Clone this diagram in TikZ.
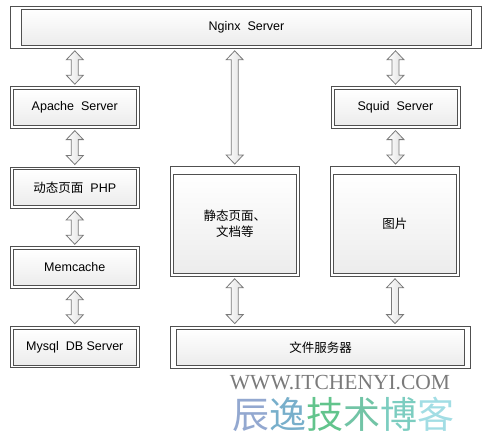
\documentclass[tikz,border=0pt]{standalone}
\usepackage{fontspec}
\setmainfont{Liberation Sans}
\newfontfamily\cjk{Noto Sans CJK SC}
\newfontfamily\cjkwide[LetterSpace=8]{Noto Sans CJK SC}
\newfontfamily\markfont{Liberation Serif}
\usepackage{tikz}
\usetikzlibrary{calc, positioning}
\definecolor{boxline}{HTML}{505050}
\definecolor{arrowline}{HTML}{7A7A7A}
\definecolor{markgray}{HTML}{7A7A7A}
\definecolor{markA}{HTML}{93A8D0}
\definecolor{markB}{HTML}{78AFCB}
\definecolor{markC}{HTML}{62C48C}
\definecolor{markD}{HTML}{72C4A6}
\definecolor{markE}{HTML}{7CCDC0}
\definecolor{markF}{HTML}{A2DDE4}

\begin{document}
\begin{tikzpicture}[x=1pt, y=-1pt,
		outerbox/.style={draw=boxline, line width=0.9pt, inner sep=0pt},
		innerbox/.style={draw=boxline, line width=0.9pt, top color=white, bottom color=gray!15,
			inner sep=0pt, align=center, font=\fontsize{12.5}{16}\selectfont},
		cjktext/.style={font=\cjk\fontsize{12.5}{16}\selectfont},
		smallframe/.style={minimum width=129pt, minimum height=41.5pt},
		smallbox/.style={minimum width=123pt, minimum height=36pt},
		dblarrow/.style={draw=arrowline, line width=0.8pt, left color=white, right color=gray!25,
			to path={let \p1=(\tikztostart), \p2=(\tikztotarget) in
				(\x1,\y1-2pt) -- (\x1+8.5pt,\y1-11pt) -- (\x1+3.5pt,\y1-11pt)
				-- (\x1+3.5pt,\y2+11pt) -- (\x1+8.5pt,\y2+11pt) -- (\x1,\y2+2pt)
				-- (\x1-8.5pt,\y2+11pt) -- (\x1-3.5pt,\y2+11pt)
				-- (\x1-3.5pt,\y1-11pt) -- (\x1-8.5pt,\y1-11pt) -- cycle}}
		]
	\useasboundingbox (0,0) rectangle (490,439);

	% --- Nginx (en haut) ---
	\node[outerbox, minimum width=471.5pt, minimum height=42.3pt] (nginx-o) at (246,27.2) {};
	\node[innerbox, minimum width=450.5pt, minimum height=36.3pt] (nginx) at (246.5,27.2) {Nginx\ \ Server};

	% --- colonne gauche ---
	\node[outerbox, smallframe] (apache-o) at (74.8,107.4) {};
	\node[innerbox, smallbox] (apache) at (74.8,107.5) {Apache\ \ Server};
	\node[outerbox, smallframe] (php-o) at (74.8,187.7) {};
	\node[innerbox, smallbox] (php) at (74.8,187.9) {{\cjk 动态页面}\ \ PHP};
	\node[outerbox, smallframe] (memc-o) at (74.8,267.5) {};
	\node[innerbox, smallbox] (memc) at (74.8,267.5) {Memcache};
	\node[outerbox, smallframe] (mysql-o) at (74.8,347) {};
	\node[innerbox, smallbox] (mysql) at (74.8,347.2) {Mysql\ \ DB Server};

	% --- colonnes du milieu et de droite ---
	\node[outerbox, minimum width=129.3pt, minimum height=109.8pt] (static-o) at (234.7,221.4) {};
	\node[innerbox, cjktext, minimum width=123pt, minimum height=99.5pt] (static) at (234.8,223.8) {静态页面、\\文档等};
	\node[outerbox, smallframe] (squid-o) at (395.5,107.4) {};
	\node[innerbox, smallbox] (squid) at (395.5,107.5) {Squid\ \ Server};
	\node[outerbox, minimum width=128.6pt, minimum height=109.8pt] (pic-o) at (395,221.4) {};
	\node[innerbox, cjktext, minimum width=123pt, minimum height=99.5pt] (pic) at (394.8,223.8) {图片};
	\node[outerbox, minimum width=300pt, minimum height=42.7pt] (files-o) at (320.7,347.4) {};
	\node[innerbox, cjktext, minimum width=287.6pt, minimum height=36.4pt] (files) at (320.5,347.5) {文件服务器};

	% --- fleches doubles ---
	\draw[dblarrow] (apache-o.north |- nginx-o.south) to (apache-o.north);
	\draw[dblarrow] (apache-o.south) to (php-o.north);
	\draw[dblarrow] (php-o.south) to (memc-o.north);
	\draw[dblarrow] (memc-o.south) to (mysql-o.north);
	\draw[dblarrow] (static-o.north |- nginx-o.south) to (static-o.north);
	\draw[dblarrow] (static-o.south) to (files-o.north);
	\draw[dblarrow] (squid-o.north |- nginx-o.south) to (squid-o.north);
	\draw[dblarrow] (squid-o.south) to (pic-o.north);
	\draw[dblarrow] (pic-o.south) to (files-o.north);

	% --- filigrane ---
	\node[font=\markfont\fontsize{21.5}{21.5}\selectfont, text=markgray, anchor=base] (site) at (340,389) {WWW.ITCHENYI.COM};
	\node[font=\cjkwide\fontsize{37}{37}\selectfont, anchor=base, inner sep=0pt] (blog) at (343.5,428)
		{\textcolor{markA}{辰}\textcolor{markB}{逸}\textcolor{markC}{技}\textcolor{markD}{术}\textcolor{markE}{博}\textcolor{markF}{客}};

\end{tikzpicture}
\end{document}
